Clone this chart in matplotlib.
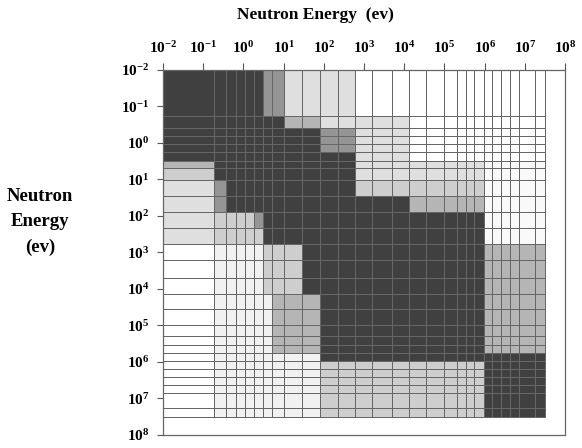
import numpy as np
import matplotlib
matplotlib.use('Agg')
import matplotlib.pyplot as plt

plt.rcParams['font.family'] = ['Liberation Serif', 'DejaVu Serif']
plt.rcParams['font.weight'] = 'bold'
plt.rcParams['mathtext.fontset'] = 'custom'
plt.rcParams['mathtext.rm'] = 'Liberation Serif:bold'
plt.rcParams['mathtext.it'] = 'Liberation Serif:italic:bold'
plt.rcParams['mathtext.bf'] = 'Liberation Serif:bold'

# group boundaries (eV)
group_edges = [1e-2, 0.186, 0.38, 0.66, 1.07, 1.8, 3.1, 5.0, 10.5, 28, 80, 220, 590,
               1600, 4900, 1.35e4, 3.5e4, 1e5, 2e5, 3.4e5, 5.5e5, 9.4e5, 1.55e6,
               2.6e6, 4.3e6, 7.1e6, 1.8e7, 3.2e7]

# shade level of each block (row = group on the vertical axis, col = group on the top axis)
shade_levels = {'D': 0.8, 'm': 0.5, 'g': 0.4, 'l': 0.3, 'p': 0.22, 'v': 0.12, 'w': 0.05, '.': 0.0}
matrix_rows = [
    "DDDDDDmmpppp...............",
    "DDDDDDDDggppppp............",
    "DDDDDDDDDDmmppp............",
    "DDDDDDDDDDmmppp............",
    "DDDDDDDDDDmmppp............",
    "DDDDDDDDDDDDppp............",
    "gDDDDDDDDDDDpppppppppwwwwww",
    "lDDDDDDDDDDDpppppppppwwwwww",
    "pmDDDDDDDDDDlllllllllwwwwww",
    "pmDDDDDDDDDDDDDggggggwwwwww",
    "pllllmDDDDDDDDDDDDDDDwwwwww",
    "plllllDDDDDDDDDDDDDDDwwwwww",
    ".vvvvvlllDDDDDDDDDDDDgggggg",
    ".vvvvvlllDDDDDDDDDDDDgggggg",
    ".vvvvvlllDDDDDDDDDDDDgggggg",
    ".vvvvvvgggDDDDDDDDDDDgggggg",
    ".vvvvvvgggDDDDDDDDDDDgggggg",
    ".vvvvvvgggDDDDDDDDDDDgggggg",
    ".vvvvvvgggDDDDDDDDDDDgggggg",
    ".vvvvvvgggDDDDDDDDDDDgggggg",
    ".vvvvvvvvvDDDDDDDDDDDDDDDDD",
    ".vvvvvvvvvlllllllllllDDDDDD",
    ".vvvvvvvvvlllllllllllDDDDDD",
    ".vvvvvvvvvlllllllllllDDDDDD",
    ".vvvvvvvvvlllllllllllDDDDDD",
    ".vvvvvvvvvlllllllllllDDDDDD",
    ".vvvvvvvvvlllllllllllDDDDDD",
]

tick_exps = [-2, -1, 0, 1, 2, 3, 4, 5, 6, 7, 8]
tick_labels = ['$10^{%d}$' % e for e in tick_exps]

corr = np.array([[shade_levels[c] for c in row] for row in matrix_rows])
edges = np.array(group_edges)

fig = plt.figure(figsize=(5.82, 4.48), dpi=100)
ax = fig.add_axes([0.280, 0.029, 0.691, 0.815])

ax.pcolormesh(edges, edges, corr, cmap='Greys', vmin=0, vmax=1,
              edgecolors='#666666', linewidth=0.6)

ax.set_xscale('log')
ax.set_yscale('log')
ax.set_xlim(1e-2, 1e8)
ax.set_ylim(1e8, 1e-2)

ticks = [10.0 ** e for e in tick_exps]
ax.set_xticks(ticks)
ax.set_xticklabels(tick_labels)
ax.set_yticks(ticks)
ax.set_yticklabels(tick_labels)
ax.minorticks_off()
ax.xaxis.tick_top()
ax.tick_params(axis='x', direction='out', length=5, width=0.8, color='#555555',
               labelsize=11, pad=5)
ax.tick_params(axis='y', direction='out', length=4, width=0.8, color='#555555',
               labelsize=11, pad=6)

for s in ax.spines.values():
    s.set_color('#666666')
    s.set_linewidth(0.9)

fig.text(315 / 582, 1 - 15 / 448, 'Neutron Energy  (ev)', ha='center', va='center',
         fontsize=12.5, fontweight='bold')
fig.text(40 / 582, 1 - 222 / 448, 'Neutron\nEnergy\n(ev)', ha='center', va='center',
         fontsize=13.5, fontweight='bold', linespacing=1.6)

fig.savefig('out.png', dpi=100)
